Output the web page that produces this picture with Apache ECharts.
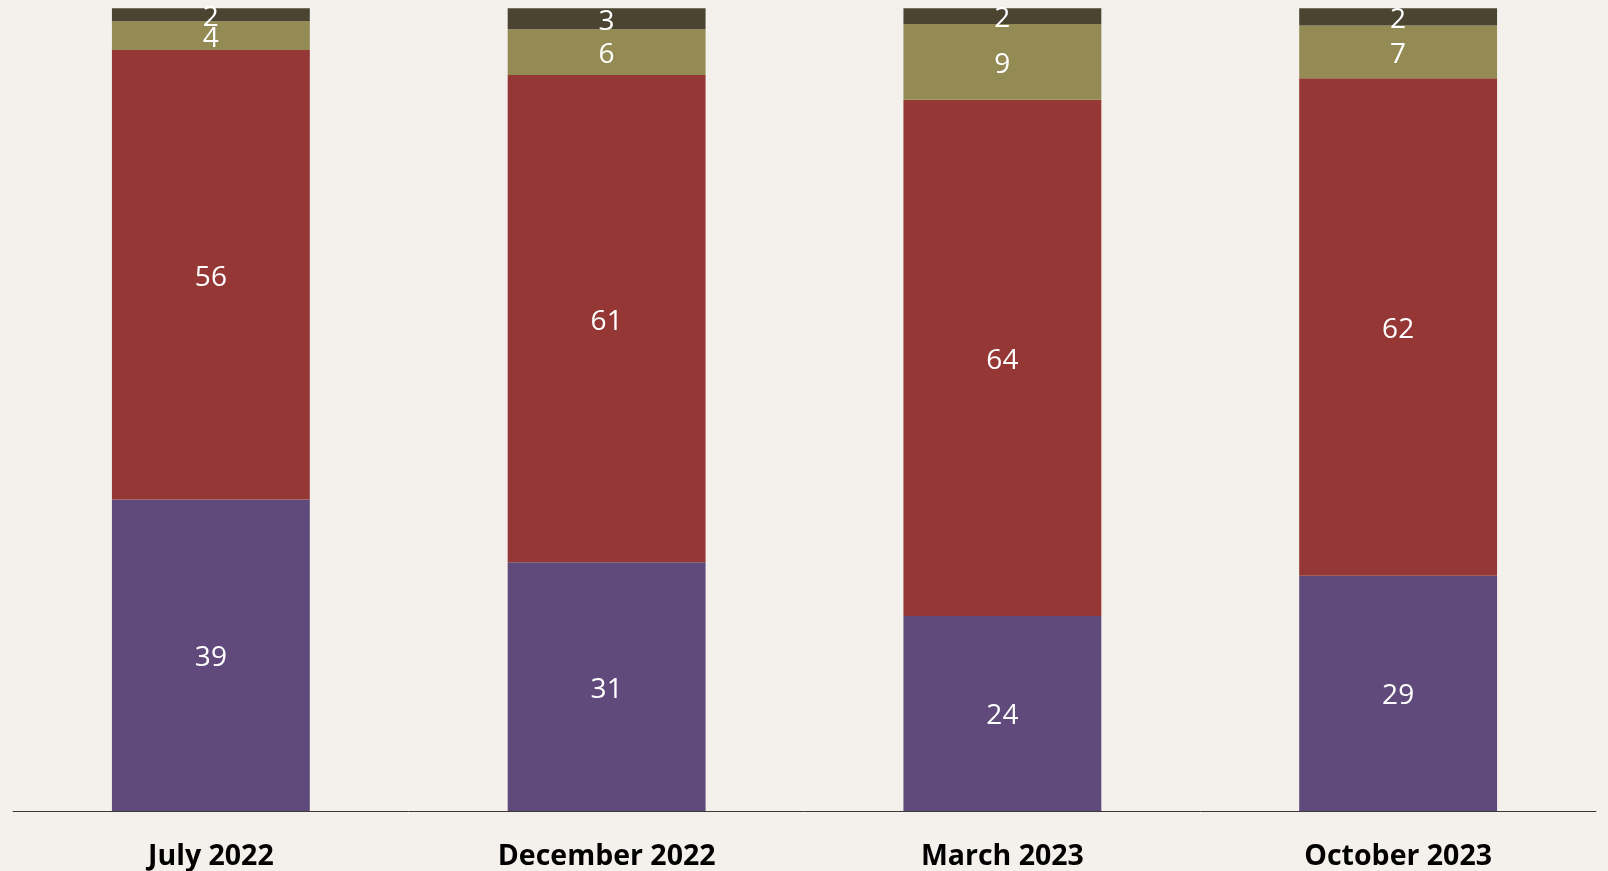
<!DOCTYPE html>
<html>
<head>
<meta charset="utf-8">
<script src="https://cdn.jsdelivr.net/npm/echarts@6/dist/echarts.min.js"></script>
<style>
html,body{margin:0;padding:0;background:#F4F1EC;}
#c{width:1608px;height:871px;}
</style>
</head>
<body>
<div id="c"></div>
<script>
const categories = ['July 2022', 'December 2022', 'March 2023', 'October 2023'];
const seriesA = [38.8, 31.0, 24.3, 29.3];   // purple (bottom)
const seriesB = [56.0, 60.7, 64.3, 62.0];   // red
const seriesC = [3.6, 5.7, 9.45, 6.55];     // olive
const seriesD = [1.6, 2.6, 1.95, 2.15];     // dark (top)
const seriesNames = ['A', 'B', 'C', 'D'];
const colors = ['#604A7B', '#953735', '#948A54', '#4A4430'];

const chart = echarts.init(document.getElementById('c'), null, {renderer: 'canvas'});
const dataSets = [seriesA, seriesB, seriesC, seriesD];
const labelStyle = {
  show: true,
  position: 'inside',
  offset: [0, 3],
  color: '#FFFFFF',
  fontFamily: 'Open Sans',
  fontSize: 28,
  formatter: p => Math.round(p.value)
};
chart.setOption({
  backgroundColor: '#F4F1EC',
  animation: false,
  grid: {left: 13, right: 12, top: 8.3, bottom: 60, containLabel: false},
  xAxis: {
    type: 'category',
    data: categories,
    axisTick: {show: false},
    axisLine: {lineStyle: {color: '#3A3A3A', width: 1}},
    axisLabel: {
      color: '#000000',
      fontFamily: 'Open Sans',
      fontWeight: 'bold',
      fontSize: 28.5,
      margin: 31
    }
  },
  yAxis: {type: 'value', min: 0, max: 100, show: false, splitLine: {show: false}},
  series: dataSets.map((d, i) => ({
    name: seriesNames[i],
    type: 'bar',
    stack: 'total',
    barCategoryGap: '50%',
    data: d,
    itemStyle: {color: colors[i]},
    label: labelStyle
  }))
});
</script>
</body>
</html>
